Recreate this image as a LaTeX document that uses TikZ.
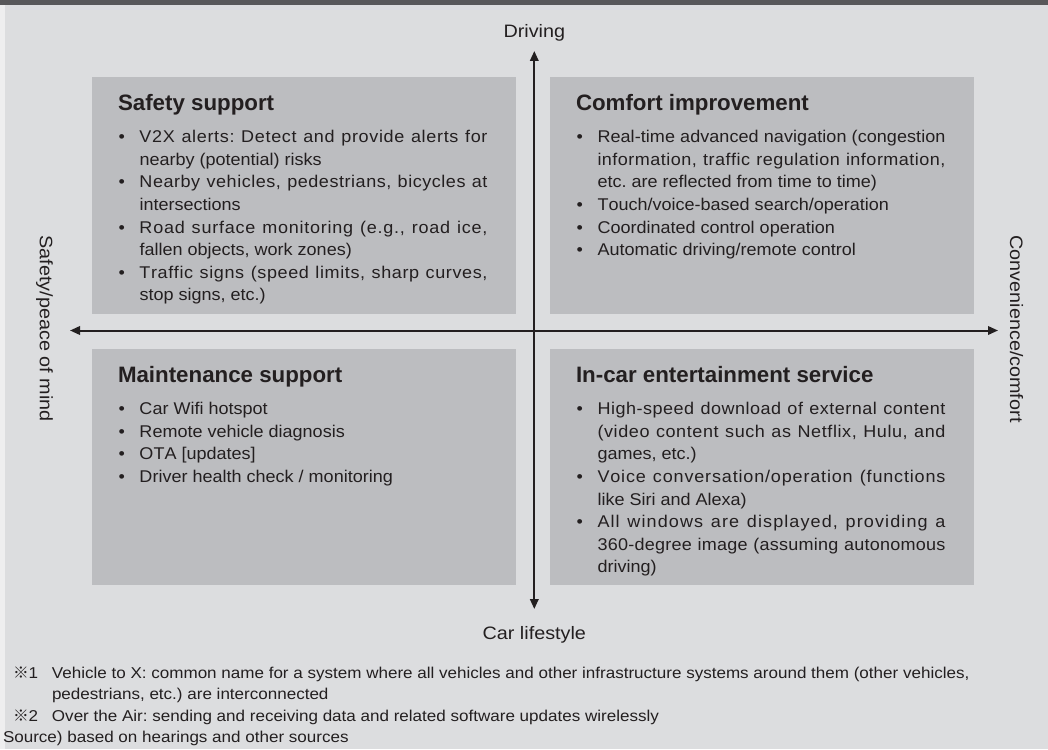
\documentclass[tikz,border=0pt]{standalone}
\usepackage{fontspec}
\setmainfont{Liberation Sans}
\newfontfamily\bodyfont[FakeStretch=1.06]{Liberation Sans}
\newfontfamily\labfont[FakeStretch=1.1]{Liberation Sans}
\newfontfamily\notefont[FakeStretch=1.085]{Liberation Sans}
\newfontfamily\refmark{Noto Sans CJK JP}
\usetikzlibrary{arrows.meta}
\frenchspacing
\definecolor{topbar}{HTML}{58585A}
\definecolor{bgcol}{HTML}{DCDDDF}
\definecolor{edgecol}{HTML}{EEEEEF}
\definecolor{boxcol}{HTML}{BCBDC0}
\definecolor{ink}{HTML}{231F20}
% letter-spaced justification: stretchable glue between printable characters
\newcount\chcnt
\chcnt=33
\loop \XeTeXcharclass\chcnt=1 \advance\chcnt by 1 \ifnum\chcnt<127 \repeat
\XeTeXinterchartoks 1 1 = {\nobreak\hskip 0pt plus 1pt\relax}
\newcommand{\jset}{\frenchspacing\tolerance=10000\hyphenpenalty=10000\exhyphenpenalty=10000\XeTeXinterchartokenstate=1\relax}
\newcommand{\bmark}{\makebox[21pt][l]{\textbullet}}
\newcommand{\bfirst}{\jset\ifvmode\noindent\fi\hangindent=21pt\hangafter=1\relax\bmark}
\newcommand{\bitem}{\par\hangindent=21pt\hangafter=1\noindent\bmark}
\tikzset{
  quad/.style={fill=boxcol, draw=none, inner sep=0, outer sep=0, minimum width=424pt, minimum height=237pt, anchor=north west},
  ttl/.style={anchor=base west, inner sep=0, outer sep=0, text=ink, font=\bfseries\fontsize{22.3pt}{26pt}\selectfont},
  body/.style={anchor=base west, inner sep=0, outer sep=0, text=ink, text width=369pt, align=justify, font=\bodyfont\fontsize{17pt}{22.6pt}\selectfont},
  axlab/.style={inner sep=0, outer sep=0, text=ink, font=\labfont\fontsize{18pt}{22pt}\selectfont},
  note/.style={anchor=base west, inner sep=0, outer sep=0, text=ink, font=\notefont\fontsize{15.7pt}{20pt}\selectfont},
  axisline/.style={line width=2pt, draw=ink, {Triangle[length=10pt,width=8.5pt]}-{Triangle[length=10pt,width=8.5pt]}}
}
\begin{document}
\begin{tikzpicture}[x=1pt,y=-1pt]
\useasboundingbox (0,0) rectangle (1048,749);
\fill[edgecol] (0,0) rectangle (1048,749);
\fill[bgcol] (5,5) rectangle (1048,749);
\fill[topbar] (0,0) rectangle (1048,5);

% quadrant boxes
\node[quad] (tl) at (92,77) {};
\node[quad] (tr) at (550,77) {};
\node[quad, minimum height=236pt] (bl) at (92,349) {};
\node[quad, minimum height=236pt] (br) at (550,349) {};

% axes
\coordinate (top) at (534.3,51);
\coordinate (bot) at (534.3,609);
\coordinate (lft) at (70,330.5);
\coordinate (rgt) at (998,330.5);
\draw[axisline] (bot) -- (top);
\draw[axisline] (lft) -- (rgt);

% axis labels
\node[axlab, anchor=base] (ldrive) at (534.3,37.3) {Driving};
\node[axlab, anchor=base] (lcar) at (534.3,639) {Car lifestyle};
\node[axlab, rotate=-90] (lsafe) at (44.5,328.5) {Safety/peace of mind};
\node[axlab, rotate=-90] (lconv) at (1016.5,329) {Convenience/comfort};

% titles
\node[ttl] (tlt) at ([shift={(26,33.3)}]tl.north west) {Safety support};
\node[ttl] (trt) at ([shift={(26,33.3)}]tr.north west) {Comfort improvement};
\node[ttl] (blt) at ([shift={(26,33.3)}]bl.north west) {Maintenance support};
\node[ttl] (brt) at ([shift={(26,33.3)}]br.north west) {In-car entertainment service};

% bodies
\node[body] (tlb) at ([shift={(26.5,65.7)}]tl.north west) {\bfirst V2X alerts: Detect and provide alerts for\break nearby (potential) risks
\bitem Nearby vehicles, pedestrians, bicycles at\break intersections
\bitem Road surface monitoring (e.g., road ice,\break fallen objects, work zones)
\bitem Traffic signs (speed limits, sharp curves,\break stop signs, etc.)\par};

\node[body] (trb) at ([shift={(26.5,65.7)}]tr.north west) {\bfirst Real-time advanced navigation (congestion\break information, traffic regulation information,\break etc. are reflected from time to time)
\bitem Touch/voice-based search/operation
\bitem Coordinated control operation
\bitem Automatic driving/remote control\par};

\node[body] (blb) at ([shift={(26.5,65.7)}]bl.north west) {\bfirst Car Wifi hotspot
\bitem Remote vehicle diagnosis
\bitem OTA [updates]
\bitem Driver health check / monitoring\par};

\node[body] (brb) at ([shift={(26.5,65.7)}]br.north west) {\bfirst High-speed download of external content\break (video content such as Netflix, Hulu, and\break games, etc.)
\bitem Voice conversation/operation (functions\break like Siri and Alexa)
\bitem All windows are displayed, providing a\break 360-degree image (assuming autonomous\break driving)\par};

% footnotes
\node[note] (n1) at (13,678.5) {\makebox[39pt][l]{{\refmark ※}1}Vehicle to X: common name for a system where all vehicles and other infrastructure systems around them (other vehicles,};
\node[note] (n1b) at (52,699.5) {pedestrians, etc.) are interconnected};
\node[note] (n2) at (13,721) {\makebox[39pt][l]{{\refmark ※}2}Over the Air: sending and receiving data and related software updates wirelessly};
\node[note] (n3) at (3,742) {Source) based on hearings and other sources};
\end{tikzpicture}
\end{document}
